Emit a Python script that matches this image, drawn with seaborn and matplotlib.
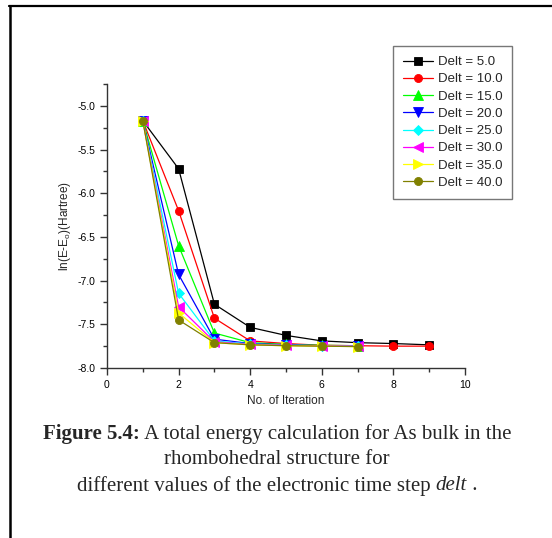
import matplotlib
matplotlib.use("Agg")
import matplotlib.pyplot as plt
import seaborn as sns
import pandas as pd
from matplotlib.ticker import MultipleLocator
from matplotlib.lines import Line2D

sns.set_style("white")
plt.rcParams["mathtext.fontset"] = "custom"
plt.rcParams["mathtext.rm"] = "Liberation Sans"
plt.rcParams["mathtext.sf"] = "Liberation Sans"

labels = ["Delt = 5.0", "Delt = 10.0", "Delt = 15.0", "Delt = 20.0",
          "Delt = 25.0", "Delt = 30.0", "Delt = 35.0", "Delt = 40.0"]
colors = ["#000000", "#ff0000", "#00ff00", "#0000ff",
          "#00ffff", "#ff00ff", "#ffff00", "#808000"]
markers = ["s", "o", "^", "v", "D", "<", ">", "o"]
msizes = [5.2, 5.8, 6.8, 6.8, 5.6, 6.8, 6.8, 5.8]

iter_long = [1, 2, 3, 4, 5, 6, 7, 8, 9]
iter_short = [1, 2, 3, 4, 5, 6, 7]

d5 = [-5.17, -5.72, -7.27, -7.535, -7.627, -7.69, -7.71, -7.72, -7.735]
d10 = [-5.17, -6.20, -7.43, -7.69, -7.72, -7.74, -7.745, -7.75, -7.75]
d15 = [-5.17, -6.60, -7.60, -7.71, -7.73, -7.74, -7.745]
d20 = [-5.17, -6.93, -7.67, -7.72, -7.735, -7.745, -7.75]
d25 = [-5.17, -7.145, -7.69, -7.725, -7.74, -7.745, -7.75]
d30 = [-5.17, -7.30, -7.70, -7.73, -7.74, -7.745, -7.75]
d35 = [-5.17, -7.37, -7.71, -7.735, -7.745, -7.75, -7.755]
d40 = [-5.17, -7.45, -7.71, -7.735, -7.745, -7.75, -7.755]

series = [(iter_long, d5), (iter_long, d10), (iter_short, d15), (iter_short, d20),
          (iter_short, d25), (iter_short, d30), (iter_short, d35), (iter_short, d40)]

W, H = 552, 538
fig = plt.figure(figsize=(W/100, H/100), dpi=100)
ax = fig.add_axes([107/W, 1 - 368/H, (465-107)/W, (368-84)/H])

for lab, (xs, ys), c, m, ms in zip(labels, series, colors, markers, msizes):
    d = pd.DataFrame({"iter": xs, "val": ys})
    sns.lineplot(data=d, x="iter", y="val", color=c, marker=m,
                 markersize=ms, linewidth=0.9, markeredgewidth=0.6,
                 markeredgecolor=c, ax=ax, legend=False)

ax.set_xlim(0, 10)
ax.set_ylim(-8.0, -4.75)
ax.xaxis.set_major_locator(MultipleLocator(2))
ax.xaxis.set_minor_locator(MultipleLocator(1))
ax.yaxis.set_minor_locator(MultipleLocator(0.25))
ax.set_yticks([-8.0, -7.5, -7.0, -6.5, -6.0, -5.5, -5.0])
ax.set_yticklabels(["-8.0", "-7.5", "-7.0", "-6.5", "-6.0", "-5.5", "-5.0"])
for s in ["top", "right"]:
    ax.spines[s].set_visible(False)
for s in ["left", "bottom"]:
    ax.spines[s].set_color("#333333")
    ax.spines[s].set_linewidth(1.0)
ax.tick_params(which="major", direction="out", length=5, width=1.0,
               labelsize=7.5, colors="#333333", labelcolor="black",
               bottom=True, left=True)
ax.tick_params(which="minor", direction="out", length=3, width=1.0,
               colors="#333333", bottom=True, left=True)
for t in ax.get_xticklabels() + ax.get_yticklabels():
    t.set_fontfamily("Liberation Sans")

ax.set_xlabel("No. of Iteration", fontsize=8.5, family="Liberation Sans", labelpad=4)
ax.set_ylabel(r"ln(E-E$_\mathsf{o}$)(Hartree)", fontsize=8.5, family="Liberation Sans", labelpad=3)

handles = [Line2D([0], [0], color=c, marker=m, markersize=ms, linewidth=0.9,
                  markeredgewidth=0.6, markeredgecolor=c)
           for c, m, ms in zip(colors, markers, msizes)]
leg = ax.legend(handles, labels, loc="upper left",
                bbox_to_anchor=(393/W, 1 - 46/H), bbox_transform=fig.transFigure,
                prop={"family": "Liberation Sans", "size": 9.5},
                frameon=True, fancybox=False, edgecolor="#555555",
                handlelength=2.3, handletextpad=0.35, labelspacing=0.38,
                borderpad=0.75, borderaxespad=0)
leg.get_frame().set_linewidth(1.0)

# caption, built from pieces so bold / italic parts sit in one centred line
fs = 15
cx = 277
fig.canvas.draw()
renderer = fig.canvas.get_renderer()

def line(pieces, y):
    texts = []
    for txt, kw in pieces:
        t = fig.text(0, 1 - y/H, txt, ha="left", va="center", fontsize=fs,
                     family="Liberation Serif", **kw)
        texts.append(t)
    widths = [t.get_window_extent(renderer).width for t in texts]
    x = cx - sum(widths) / 2
    for t, w in zip(texts, widths):
        t.set_x(x / W)
        x += w

line([("Figure 5.4:", {"weight": "bold"}),
      (" A total energy calculation for As bulk in the", {})], 434)
line([("rhombohedral structure for", {})], 460)
line([("different values of the electronic time step ", {}),
      ("delt", {"style": "italic"}), (" .", {})], 486)

# page border lines
fig.add_artist(Line2D([9/W, 1], [1 - 6/H, 1 - 6/H], transform=fig.transFigure,
                      color="black", linewidth=1.6))
fig.add_artist(Line2D([9.5/W, 9.5/W], [1 - 6/H, 0], transform=fig.transFigure,
                      color="black", linewidth=1.8))

fig.savefig("out.png", dpi=100)
